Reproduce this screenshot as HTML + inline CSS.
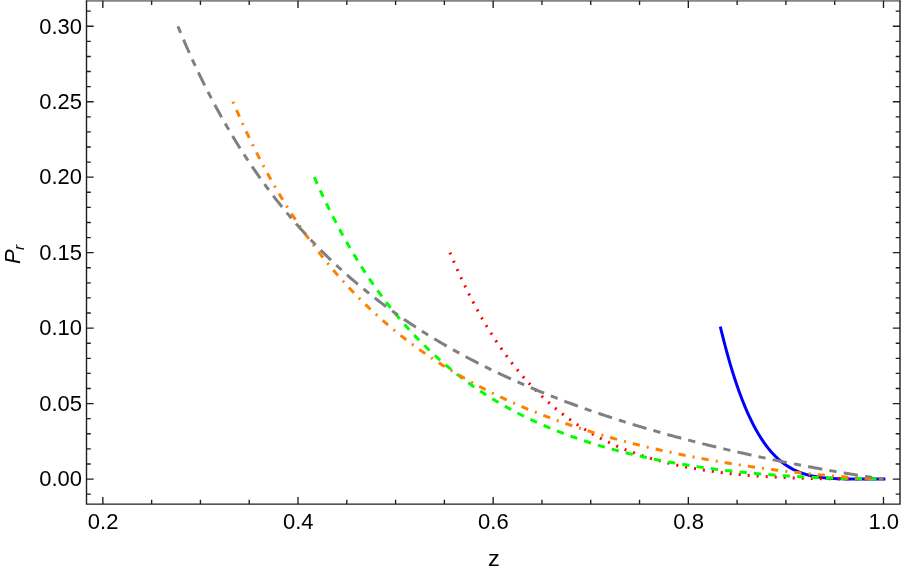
<!DOCTYPE html>
<html><head><meta charset="utf-8"><title>plot</title>
<style>
html,body{margin:0;padding:0;background:#fff;}
body{width:903px;height:573px;position:relative;overflow:hidden;font-family:"Liberation Sans",sans-serif;color:#000;}
#lab{position:absolute;left:0;top:0;width:903px;height:573px;will-change:transform;}
.yl{position:absolute;left:0;width:82.1px;transform:scaleY(1.035);height:30px;line-height:30px;text-align:right;font-size:22px;}
.xl{position:absolute;top:507.3px;transform:scaleY(1.025);width:80px;height:30px;line-height:30px;text-align:center;font-size:22px;}
#zl{position:absolute;left:453.6px;top:543.6px;transform:scaleX(1.07);width:80px;height:30px;line-height:30px;text-align:center;font-size:22px;}
#pl{position:absolute;left:-27.3px;top:239px;width:80px;height:30px;line-height:30px;text-align:center;font-size:22px;font-style:italic;transform:rotate(-90deg);transform-origin:center center;white-space:nowrap;}
#pl span{font-size:15.5px;position:relative;top:3.6px;left:-0.7px;}
</style></head><body>
<svg width="903" height="573" viewBox="0 0 903 573" style="position:absolute;left:0;top:0">
<path d="M720.31,326.56 L720.69,328.12 L720.75,328.40 L720.85,328.81 L720.97,329.29 L721.10,329.82 L721.24,330.39 L721.38,331.00 L721.54,331.63 L721.70,332.29 L721.86,332.97 L722.04,333.67 L722.22,334.39 L722.40,335.13 L722.59,335.88 L722.78,336.65 L722.97,337.43 L723.17,338.22 L723.38,339.03 L723.59,339.85 L723.80,340.67 L724.01,341.51 L724.23,342.35 L724.45,343.21 L724.67,344.07 L724.90,344.93 L725.13,345.81 L725.36,346.69 L725.60,347.58 L725.84,348.47 L726.08,349.36 L726.32,350.27 L726.56,351.17 L726.81,352.08 L727.06,352.99 L727.31,353.91 L727.57,354.83 L727.83,355.75 L728.08,356.68 L728.34,357.61 L728.61,358.54 L728.87,359.47 L729.14,360.40 L729.41,361.33 L729.68,362.27 L729.95,363.21 L730.23,364.14 L730.50,365.08 L730.78,366.02 L731.06,366.96 L731.34,367.90 L731.63,368.83 L731.91,369.77 L732.20,370.71 L732.49,371.64 L732.78,372.58 L733.07,373.51 L733.36,374.45 L733.66,375.38 L733.96,376.31 L734.25,377.24 L734.55,378.17 L734.86,379.09 L735.16,380.02 L735.46,380.94 L735.77,381.86 L736.08,382.78 L736.38,383.69 L736.69,384.61 L737.00,385.52 L737.32,386.43 L737.63,387.33 L737.95,388.23 L738.26,389.13 L738.58,390.03 L738.90,390.92 L739.22,391.81 L739.54,392.70 L739.87,393.58 L740.19,394.46 L740.52,395.34 L740.84,396.21 L741.17,397.08 L741.50,397.95 L741.83,398.81 L742.16,399.67 L742.50,400.52 L742.83,401.38 L743.17,402.22 L743.50,403.06 L743.84,403.90 L744.18,404.74 L744.52,405.57 L744.86,406.39 L745.20,407.21 L745.54,408.03 L745.89,408.84 L746.23,409.65 L746.58,410.45 L746.93,411.25 L747.28,412.04 L747.63,412.83 L747.98,413.62 L748.33,414.40 L748.68,415.17 L749.04,415.94 L749.39,416.71 L749.75,417.47 L750.10,418.22 L750.46,418.97 L750.82,419.72 L751.18,420.46 L751.54,421.19 L751.90,421.92 L752.27,422.65 L752.63,423.37 L752.99,424.09 L753.36,424.80 L753.73,425.50 L754.09,426.20 L754.46,426.89 L754.83,427.58 L755.20,428.27 L755.57,428.95 L755.95,429.62 L756.32,430.29 L756.69,430.95 L757.07,431.61 L757.44,432.26 L757.82,432.91 L758.20,433.55 L758.58,434.18 L758.96,434.81 L759.34,435.44 L759.72,436.06 L760.10,436.67 L760.48,437.28 L760.87,437.89 L761.25,438.49 L761.64,439.08 L762.02,439.67 L762.41,440.25 L762.80,440.83 L763.19,441.40 L763.57,441.96 L763.97,442.52 L764.36,443.08 L764.75,443.63 L765.14,444.18 L765.53,444.71 L765.93,445.25 L766.32,445.78 L766.72,446.30 L767.12,446.82 L767.51,447.33 L767.91,447.84 L768.31,448.34 L768.71,448.84 L769.11,449.33 L769.51,449.82 L769.92,450.30 L770.32,450.78 L770.72,451.25 L771.13,451.71 L771.53,452.17 L771.94,452.63 L772.34,453.08 L772.75,453.52 L773.16,453.96 L773.57,454.40 L773.98,454.83 L774.39,455.25 L774.80,455.67 L775.21,456.09 L775.62,456.50 L776.04,456.90 L776.45,457.30 L776.86,457.70 L777.28,458.09 L777.70,458.48 L778.11,458.86 L778.53,459.23 L778.95,459.60 L779.37,459.97 L779.79,460.33 L780.21,460.69 L780.63,461.04 L781.05,461.39 L781.47,461.73 L781.89,462.07 L782.32,462.40 L782.74,462.73 L783.17,463.05 L783.59,463.37 L784.02,463.69 L784.45,464.00 L784.87,464.31 L785.30,464.61 L785.73,464.91 L786.16,465.20 L786.59,465.49 L787.02,465.77 L787.45,466.05 L787.88,466.33 L788.32,466.60 L788.75,466.87 L789.18,467.13 L789.62,467.39 L790.05,467.65 L790.49,467.90 L790.93,468.15 L791.36,468.39 L791.80,468.63 L792.24,468.87 L792.68,469.10 L793.12,469.33 L793.56,469.56 L794.00,469.78 L794.44,469.99 L794.88,470.21 L795.33,470.42 L795.77,470.62 L796.21,470.83 L796.66,471.03 L797.10,471.22 L797.55,471.41 L798.00,471.60 L798.44,471.79 L798.89,471.97 L799.34,472.15 L799.79,472.32 L800.24,472.50 L800.69,472.66 L801.14,472.83 L801.59,472.99 L802.04,473.15 L802.49,473.31 L802.95,473.46 L803.40,473.61 L803.85,473.76 L804.31,473.90 L804.76,474.04 L805.22,474.18 L805.67,474.32 L806.13,474.45 L806.59,474.58 L807.05,474.71 L807.51,474.83 L807.96,474.95 L808.42,475.07 L808.88,475.19 L809.35,475.30 L809.81,475.42 L810.27,475.53 L810.73,475.63 L811.19,475.74 L811.66,475.84 L812.12,475.94 L812.59,476.03 L813.05,476.13 L813.52,476.22 L813.98,476.31 L814.45,476.40 L814.92,476.49 L815.38,476.57 L815.85,476.65 L816.32,476.73 L816.79,476.81 L817.26,476.89 L817.73,476.96 L818.20,477.03 L818.67,477.10 L819.15,477.17 L819.62,477.24 L820.09,477.30 L820.57,477.36 L821.04,477.43 L821.51,477.49 L821.99,477.54 L822.47,477.60 L822.94,477.65 L823.42,477.71 L823.90,477.76 L824.37,477.81 L824.85,477.86 L825.33,477.90 L825.81,477.95 L826.29,477.99 L826.77,478.04 L827.25,478.08 L827.73,478.12 L828.21,478.16 L828.70,478.19 L829.18,478.23 L829.66,478.27 L830.15,478.30 L830.63,478.33 L831.11,478.36 L831.60,478.40 L832.09,478.43 L832.57,478.45 L833.06,478.48 L833.55,478.51 L834.03,478.53 L834.52,478.56 L835.01,478.58 L835.50,478.60 L835.99,478.63 L836.48,478.65 L836.97,478.67 L837.46,478.69 L837.95,478.71 L838.44,478.72 L838.94,478.74 L839.43,478.76 L839.92,478.77 L840.42,478.79 L840.91,478.80 L841.41,478.82 L841.90,478.83 L842.40,478.84 L842.89,478.86 L843.39,478.87 L843.89,478.88 L844.38,478.89 L844.88,478.90 L845.38,478.91 L845.88,478.92 L846.38,478.93 L846.88,478.93 L847.38,478.94 L847.88,478.95 L848.38,478.96 L848.88,478.96 L849.39,478.97 L849.89,478.97 L850.39,478.98 L850.90,478.98 L851.40,478.99 L851.90,478.99 L852.41,479.00 L852.91,479.00 L853.42,479.01 L853.93,479.01 L854.43,479.01 L854.94,479.02 L855.45,479.02 L855.96,479.02 L856.46,479.02 L856.97,479.03 L857.48,479.03 L857.99,479.03 L858.50,479.03 L859.01,479.03 L859.52,479.04 L860.04,479.04 L860.55,479.04 L861.06,479.04 L861.57,479.04 L862.09,479.04 L862.60,479.04 L863.11,479.04 L863.63,479.04 L864.14,479.05 L864.66,479.05 L865.17,479.05 L865.69,479.05 L866.21,479.05 L866.72,479.05 L867.24,479.05 L867.76,479.05 L868.28,479.05 L868.80,479.05 L869.32,479.05 L869.84,479.05 L870.36,479.05 L870.88,479.05 L871.40,479.05 L871.92,479.05 L872.44,479.05 L872.96,479.05 L873.48,479.05 L874.01,479.05 L874.53,479.05 L875.05,479.05 L875.58,479.05 L876.10,479.05 L876.63,479.05 L877.15,479.05 L877.68,479.05 L878.21,479.05 L878.73,479.05 L879.26,479.05 L879.79,479.05 L880.31,479.05 L880.84,479.05 L881.37,479.05 L881.90,479.05 L882.43,479.05 L882.96,479.05 L883.49,479.05 L885.39,479.05" fill="none" stroke="#0000ff" stroke-width="3.0" stroke-linejoin="round"/>
<path d="M449.94,252.66 L450.12,253.09 L450.39,253.71 L450.69,254.44 L451.03,255.25 L451.40,256.12 L451.79,257.04 L452.20,258.00 L452.63,259.00 L453.08,260.03 L453.54,261.10 L454.01,262.19 L454.50,263.30 L455.00,264.44 L455.51,265.60 L456.03,266.78 L456.57,267.97 L457.11,269.18 L457.66,270.41 L458.22,271.65 L458.80,272.90 L459.38,274.17 L459.96,275.44 L460.56,276.73 L461.16,278.02 L461.78,279.32 L462.39,280.63 L463.02,281.95 L463.65,283.27 L464.29,284.60 L464.94,285.93 L465.59,287.27 L466.25,288.62 L466.92,289.96 L467.59,291.31 L468.27,292.67 L468.95,294.02 L469.64,295.38 L470.34,296.74 L471.04,298.10 L471.74,299.46 L472.45,300.82 L473.17,302.18 L473.89,303.54 L474.62,304.90 L475.35,306.26 L476.09,307.62 L476.83,308.98 L477.57,310.34 L478.32,311.69 L479.08,313.05 L479.84,314.40 L480.60,315.75 L481.37,317.09 L482.14,318.44 L482.92,319.78 L483.70,321.11 L484.49,322.45 L485.28,323.78 L486.07,325.11 L486.87,326.43 L487.67,327.75 L488.48,329.06 L489.29,330.38 L490.10,331.68 L490.92,332.98 L491.74,334.28 L492.57,335.57 L493.40,336.86 L494.23,338.15 L495.07,339.42 L495.91,340.70 L496.75,341.96 L497.60,343.23 L498.45,344.48 L499.30,345.73 L500.16,346.98 L501.02,348.22 L501.88,349.45 L502.75,350.68 L503.62,351.90 L504.49,353.12 L505.37,354.33 L506.25,355.53 L507.13,356.73 L508.02,357.92 L508.91,359.10 L509.80,360.28 L510.70,361.45 L511.60,362.62 L512.50,363.77 L513.41,364.93 L514.31,366.07 L515.23,367.21 L516.14,368.34 L517.06,369.47 L517.98,370.58 L518.90,371.70 L519.82,372.80 L520.75,373.90 L521.68,374.99 L522.62,376.07 L523.55,377.15 L524.49,378.22 L525.44,379.28 L526.38,380.34 L527.33,381.39 L528.28,382.43 L529.23,383.47 L530.19,384.50 L531.15,385.52 L532.11,386.53 L533.07,387.54 L534.04,388.54 L535.01,389.53 L535.98,390.52 L536.95,391.49 L537.93,392.47 L538.91,393.43 L539.89,394.39 L540.87,395.34 L541.86,396.28 L542.85,397.22 L543.84,398.15 L544.83,399.07 L545.83,399.99 L546.83,400.89 L547.83,401.80 L548.83,402.69 L549.84,403.58 L550.84,404.46 L551.85,405.33 L552.87,406.20 L553.88,407.06 L554.90,407.91 L555.92,408.75 L556.94,409.59 L557.96,410.42 L558.99,411.25 L560.02,412.07 L561.05,412.88 L562.08,413.68 L563.12,414.48 L564.15,415.27 L565.19,416.06 L566.23,416.83 L567.28,417.61 L568.32,418.37 L569.37,419.13 L570.42,419.88 L571.47,420.62 L572.53,421.36 L573.58,422.09 L574.64,422.82 L575.70,423.54 L576.77,424.25 L577.83,424.95 L578.90,425.65 L579.97,426.34 L581.04,427.03 L582.11,427.71 L583.19,428.38 L584.26,429.05 L585.34,429.71 L586.42,430.37 L587.50,431.02 L588.59,431.66 L589.68,432.30 L590.77,432.93 L591.86,433.55 L592.95,434.17 L594.04,434.78 L595.14,435.39 L596.24,435.99 L597.34,436.58 L598.44,437.17 L599.54,437.76 L600.65,438.33 L601.76,438.90 L602.87,439.47 L603.98,440.03 L605.09,440.58 L606.21,441.13 L607.33,441.68 L608.44,442.21 L609.57,442.74 L610.69,443.27 L611.81,443.79 L612.94,444.31 L614.07,444.82 L615.20,445.32 L616.33,445.82 L617.46,446.32 L618.60,446.80 L619.73,447.29 L620.87,447.77 L622.01,448.24 L623.15,448.71 L624.30,449.17 L625.44,449.63 L626.59,450.08 L627.74,450.53 L628.89,450.97 L630.04,451.41 L631.20,451.84 L632.35,452.27 L633.51,452.69 L634.67,453.11 L635.83,453.53 L636.99,453.93 L638.16,454.34 L639.32,454.74 L640.49,455.13 L641.66,455.52 L642.83,455.91 L644.00,456.29 L645.18,456.67 L646.35,457.04 L647.53,457.41 L648.71,457.77 L649.89,458.13 L651.07,458.48 L652.26,458.83 L653.44,459.18 L654.63,459.52 L655.82,459.86 L657.01,460.19 L658.20,460.52 L659.40,460.85 L660.59,461.17 L661.79,461.48 L662.99,461.80 L664.19,462.11 L665.39,462.41 L666.59,462.71 L667.79,463.01 L669.00,463.30 L670.21,463.59 L671.42,463.88 L672.63,464.16 L673.84,464.44 L675.05,464.71 L676.27,464.98 L677.48,465.25 L678.70,465.51 L679.92,465.77 L681.14,466.03 L682.36,466.28 L683.59,466.53 L684.81,466.78 L686.04,467.02 L687.27,467.26 L688.50,467.50 L689.73,467.73 L690.96,467.96 L692.20,468.18 L693.43,468.41 L694.67,468.63 L695.91,468.84 L697.15,469.05 L698.39,469.26 L699.63,469.47 L700.88,469.67 L702.12,469.87 L703.37,470.07 L704.62,470.27 L705.87,470.46 L707.12,470.65 L708.37,470.83 L709.63,471.02 L710.88,471.20 L712.14,471.37 L713.40,471.55 L714.66,471.72 L715.92,471.89 L717.18,472.05 L718.45,472.22 L719.71,472.38 L720.98,472.54 L722.25,472.69 L723.52,472.84 L724.79,472.99 L726.06,473.14 L727.33,473.29 L728.61,473.43 L729.89,473.57 L731.16,473.71 L732.44,473.84 L733.72,473.98 L735.00,474.11 L736.29,474.24 L737.57,474.36 L738.86,474.49 L740.14,474.61 L741.43,474.73 L742.72,474.84 L744.01,474.96 L745.30,475.07 L746.60,475.18 L747.89,475.29 L749.19,475.40 L750.49,475.50 L751.79,475.60 L753.09,475.70 L754.39,475.80 L755.69,475.90 L756.99,475.99 L758.30,476.08 L759.60,476.17 L760.91,476.26 L762.22,476.35 L763.53,476.43 L764.84,476.52 L766.16,476.60 L767.47,476.68 L768.78,476.76 L770.10,476.83 L771.42,476.91 L772.74,476.98 L774.06,477.05 L775.38,477.12 L776.70,477.19 L778.03,477.25 L779.35,477.32 L780.68,477.38 L782.01,477.44 L783.33,477.50 L784.66,477.56 L786.00,477.62 L787.33,477.67 L788.66,477.73 L790.00,477.78 L791.33,477.83 L792.67,477.88 L794.01,477.93 L795.35,477.97 L796.69,478.02 L798.03,478.06 L799.38,478.11 L800.72,478.15 L802.07,478.19 L803.41,478.23 L804.76,478.27 L806.11,478.30 L807.46,478.34 L808.81,478.38 L810.16,478.41 L811.52,478.44 L812.87,478.47 L814.23,478.50 L815.59,478.53 L816.95,478.56 L818.31,478.59 L819.67,478.61 L821.03,478.64 L822.39,478.66 L823.76,478.69 L825.12,478.71 L826.49,478.73 L827.86,478.75 L829.23,478.77 L830.60,478.79 L831.97,478.81 L833.34,478.82 L834.71,478.84 L836.09,478.86 L837.47,478.87 L838.84,478.89 L840.22,478.90 L841.60,478.91 L842.98,478.92 L844.36,478.94 L845.74,478.95 L847.13,478.96 L848.51,478.96 L849.90,478.97 L851.29,478.98 L852.67,478.99 L854.06,479.00 L855.45,479.00 L856.85,479.01 L858.24,479.01 L859.63,479.02 L861.03,479.02 L862.42,479.03 L863.82,479.03 L865.22,479.03 L866.62,479.04 L868.02,479.04 L869.42,479.04 L870.82,479.04 L872.22,479.05 L873.63,479.05 L875.03,479.05 L876.44,479.05 L877.85,479.05 L879.26,479.05 L880.67,479.05 L882.08,479.05 L883.49,479.05" fill="none" stroke="#ff0000" stroke-width="3.0" stroke-linejoin="round" stroke-dasharray="2.0 7.022" stroke-dashoffset="0.1"/>
<path d="M314.30,177.19 L314.54,177.73 L314.89,178.52 L315.29,179.43 L315.74,180.45 L316.22,181.53 L316.73,182.68 L317.27,183.89 L317.84,185.14 L318.42,186.43 L319.03,187.76 L319.65,189.12 L320.29,190.52 L320.94,191.94 L321.62,193.39 L322.30,194.86 L323.00,196.35 L323.71,197.86 L324.44,199.39 L325.18,200.94 L325.93,202.50 L326.69,204.08 L327.46,205.66 L328.24,207.26 L329.04,208.87 L329.84,210.49 L330.65,212.12 L331.47,213.76 L332.31,215.41 L333.15,217.06 L333.99,218.71 L334.85,220.38 L335.72,222.04 L336.59,223.71 L337.47,225.39 L338.36,227.07 L339.26,228.75 L340.17,230.43 L341.08,232.11 L342.00,233.80 L342.92,235.48 L343.86,237.17 L344.80,238.85 L345.75,240.54 L346.70,242.22 L347.66,243.91 L348.63,245.59 L349.60,247.27 L350.58,248.95 L351.56,250.62 L352.56,252.29 L353.55,253.96 L354.56,255.63 L355.57,257.29 L356.58,258.95 L357.60,260.61 L358.63,262.26 L359.66,263.91 L360.70,265.55 L361.74,267.19 L362.79,268.82 L363.84,270.45 L364.90,272.08 L365.96,273.70 L367.03,275.31 L368.10,276.92 L369.18,278.52 L370.27,280.11 L371.35,281.70 L372.45,283.29 L373.54,284.86 L374.65,286.43 L375.75,288.00 L376.87,289.56 L377.98,291.11 L379.10,292.65 L380.23,294.19 L381.36,295.72 L382.49,297.25 L383.63,298.76 L384.78,300.27 L385.92,301.78 L387.07,303.27 L388.23,304.76 L389.39,306.24 L390.55,307.71 L391.72,309.18 L392.89,310.64 L394.07,312.09 L395.25,313.53 L396.44,314.96 L397.62,316.39 L398.82,317.81 L400.01,319.22 L401.21,320.63 L402.42,322.02 L403.62,323.41 L404.83,324.79 L406.05,326.17 L407.27,327.53 L408.49,328.89 L409.72,330.24 L410.95,331.58 L412.18,332.91 L413.42,334.24 L414.66,335.55 L415.90,336.86 L417.15,338.16 L418.40,339.46 L419.66,340.74 L420.92,342.02 L422.18,343.29 L423.44,344.55 L424.71,345.80 L425.98,347.05 L427.26,348.28 L428.54,349.51 L429.82,350.73 L431.10,351.95 L432.39,353.15 L433.68,354.35 L434.98,355.54 L436.28,356.72 L437.58,357.89 L438.88,359.06 L440.19,360.21 L441.50,361.36 L442.81,362.51 L444.13,363.64 L445.45,364.77 L446.77,365.89 L448.10,367.00 L449.43,368.10 L450.76,369.19 L452.10,370.28 L453.44,371.36 L454.78,372.43 L456.12,373.50 L457.47,374.56 L458.82,375.60 L460.17,376.65 L461.53,377.68 L462.89,378.71 L464.25,379.73 L465.61,380.74 L466.98,381.74 L468.35,382.74 L469.72,383.73 L471.10,384.71 L472.48,385.69 L473.86,386.66 L475.24,387.62 L476.63,388.57 L478.02,389.52 L479.41,390.45 L480.81,391.39 L482.20,392.31 L483.61,393.23 L485.01,394.14 L486.41,395.04 L487.82,395.94 L489.23,396.83 L490.65,397.71 L492.06,398.59 L493.48,399.46 L494.90,400.32 L496.33,401.18 L497.76,402.03 L499.19,402.87 L500.62,403.71 L502.05,404.54 L503.49,405.36 L504.93,406.17 L506.37,406.98 L507.81,407.79 L509.26,408.58 L510.71,409.37 L512.16,410.16 L513.62,410.94 L515.07,411.71 L516.53,412.47 L518.00,413.23 L519.46,413.98 L520.93,414.73 L522.40,415.47 L523.87,416.20 L525.34,416.93 L526.82,417.65 L528.30,418.37 L529.78,419.08 L531.26,419.78 L532.74,420.48 L534.23,421.17 L535.72,421.86 L537.22,422.54 L538.71,423.22 L540.21,423.88 L541.71,424.55 L543.21,425.21 L544.71,425.86 L546.22,426.50 L547.73,427.15 L549.24,427.78 L550.75,428.41 L552.27,429.03 L553.78,429.65 L555.30,430.27 L556.83,430.88 L558.35,431.48 L559.88,432.08 L561.41,432.67 L562.94,433.26 L564.47,433.84 L566.00,434.41 L567.54,434.99 L569.08,435.55 L570.62,436.11 L572.17,436.67 L573.71,437.22 L575.26,437.77 L576.81,438.31 L578.36,438.85 L579.92,439.38 L581.47,439.91 L583.03,440.43 L584.59,440.94 L586.16,441.46 L587.72,441.96 L589.29,442.47 L590.86,442.97 L592.43,443.46 L594.00,443.95 L595.57,444.43 L597.15,444.91 L598.73,445.39 L600.31,445.86 L601.90,446.32 L603.48,446.79 L605.07,447.24 L606.66,447.70 L608.25,448.15 L609.84,448.59 L611.44,449.03 L613.03,449.47 L614.63,449.90 L616.23,450.33 L617.84,450.75 L619.44,451.17 L621.05,451.58 L622.66,451.99 L624.27,452.40 L625.88,452.80 L627.50,453.20 L629.11,453.60 L630.73,453.99 L632.35,454.37 L633.97,454.76 L635.60,455.14 L637.22,455.51 L638.85,455.88 L640.48,456.25 L642.11,456.61 L643.75,456.97 L645.38,457.33 L647.02,457.68 L648.66,458.03 L650.30,458.37 L651.94,458.72 L653.59,459.05 L655.24,459.39 L656.88,459.72 L658.53,460.05 L660.19,460.37 L661.84,460.69 L663.50,461.00 L665.15,461.32 L666.81,461.63 L668.48,461.93 L670.14,462.24 L671.80,462.54 L673.47,462.83 L675.14,463.12 L676.81,463.41 L678.48,463.70 L680.15,463.98 L681.83,464.26 L683.51,464.54 L685.19,464.81 L686.87,465.08 L688.55,465.35 L690.23,465.61 L691.92,465.87 L693.61,466.13 L695.30,466.38 L696.99,466.63 L698.68,466.88 L700.38,467.13 L702.07,467.37 L703.77,467.61 L705.47,467.85 L707.17,468.08 L708.88,468.31 L710.58,468.54 L712.29,468.76 L714.00,468.98 L715.71,469.20 L717.42,469.42 L719.13,469.63 L720.85,469.84 L722.56,470.05 L724.28,470.25 L726.00,470.46 L727.72,470.66 L729.45,470.85 L731.17,471.05 L732.90,471.24 L734.63,471.43 L736.36,471.61 L738.09,471.80 L739.82,471.98 L741.56,472.16 L743.29,472.33 L745.03,472.50 L746.77,472.68 L748.51,472.84 L750.26,473.01 L752.00,473.17 L753.75,473.33 L755.49,473.49 L757.24,473.65 L758.99,473.80 L760.75,473.95 L762.50,474.10 L764.26,474.24 L766.01,474.39 L767.77,474.53 L769.53,474.67 L771.30,474.80 L773.06,474.94 L774.82,475.07 L776.59,475.20 L778.36,475.33 L780.13,475.45 L781.90,475.57 L783.67,475.69 L785.45,475.81 L787.22,475.93 L789.00,476.04 L790.78,476.15 L792.56,476.26 L794.34,476.37 L796.13,476.47 L797.91,476.58 L799.70,476.68 L801.49,476.77 L803.28,476.87 L805.07,476.96 L806.86,477.06 L808.66,477.15 L810.45,477.23 L812.25,477.32 L814.05,477.40 L815.85,477.48 L817.65,477.56 L819.46,477.64 L821.26,477.72 L823.07,477.79 L824.87,477.86 L826.68,477.93 L828.49,478.00 L830.31,478.06 L832.12,478.12 L833.94,478.18 L835.75,478.24 L837.57,478.30 L839.39,478.36 L841.21,478.41 L843.03,478.46 L844.86,478.51 L846.68,478.55 L848.51,478.60 L850.34,478.64 L852.17,478.68 L854.00,478.72 L855.83,478.76 L857.66,478.79 L859.50,478.83 L861.34,478.86 L863.18,478.88 L865.02,478.91 L866.86,478.94 L868.70,478.96 L870.54,478.98 L872.39,478.99 L874.24,479.01 L876.08,479.02 L877.93,479.03 L879.78,479.04 L881.64,479.05 L883.49,479.05" fill="none" stroke="#00ff00" stroke-width="3.0" stroke-linejoin="round" stroke-dasharray="7.222 7.222"/>
<path d="M232.95,101.73 L233.22,102.36 L233.62,103.29 L234.08,104.38 L234.59,105.57 L235.14,106.85 L235.73,108.21 L236.35,109.63 L236.99,111.10 L237.66,112.63 L238.35,114.19 L239.06,115.80 L239.79,117.44 L240.54,119.12 L241.31,120.82 L242.09,122.55 L242.89,124.30 L243.71,126.08 L244.54,127.87 L245.38,129.69 L246.24,131.52 L247.11,133.37 L247.99,135.23 L248.88,137.10 L249.79,138.99 L250.71,140.89 L251.64,142.80 L252.58,144.71 L253.53,146.64 L254.49,148.57 L255.46,150.50 L256.44,152.45 L257.43,154.39 L258.42,156.34 L259.43,158.30 L260.45,160.26 L261.48,162.22 L262.51,164.18 L263.55,166.14 L264.60,168.10 L265.66,170.07 L266.73,172.03 L267.80,173.99 L268.89,175.95 L269.98,177.91 L271.07,179.87 L272.18,181.83 L273.29,183.78 L274.41,185.73 L275.54,187.68 L276.67,189.62 L277.81,191.56 L278.96,193.50 L280.11,195.43 L281.27,197.35 L282.44,199.28 L283.61,201.19 L284.79,203.10 L285.98,205.01 L287.17,206.91 L288.36,208.81 L289.57,210.69 L290.78,212.58 L291.99,214.45 L293.21,216.32 L294.44,218.19 L295.67,220.04 L296.91,221.89 L298.16,223.73 L299.40,225.57 L300.66,227.40 L301.92,229.22 L303.18,231.03 L304.46,232.83 L305.73,234.63 L307.01,236.42 L308.30,238.20 L309.59,239.98 L310.89,241.74 L312.19,243.50 L313.49,245.25 L314.81,246.99 L316.12,248.73 L317.44,250.45 L318.77,252.17 L320.10,253.88 L321.43,255.58 L322.77,257.27 L324.12,258.95 L325.47,260.63 L326.82,262.29 L328.18,263.95 L329.54,265.60 L330.91,267.24 L332.28,268.87 L333.66,270.49 L335.04,272.10 L336.42,273.71 L337.81,275.31 L339.20,276.89 L340.60,278.47 L342.00,280.04 L343.41,281.60 L344.82,283.16 L346.23,284.70 L347.65,286.24 L349.07,287.76 L350.50,289.28 L351.93,290.79 L353.36,292.29 L354.80,293.78 L356.24,295.26 L357.69,296.74 L359.14,298.20 L360.59,299.66 L362.05,301.11 L363.51,302.55 L364.98,303.98 L366.44,305.40 L367.92,306.81 L369.39,308.22 L370.87,309.62 L372.36,311.00 L373.84,312.38 L375.33,313.76 L376.83,315.12 L378.33,316.47 L379.83,317.82 L381.33,319.16 L382.84,320.49 L384.36,321.81 L385.87,323.12 L387.39,324.43 L388.91,325.72 L390.44,327.01 L391.97,328.29 L393.50,329.56 L395.04,330.83 L396.58,332.08 L398.12,333.33 L399.67,334.57 L401.22,335.80 L402.77,337.03 L404.33,338.24 L405.89,339.45 L407.45,340.65 L409.01,341.85 L410.58,343.03 L412.16,344.21 L413.73,345.38 L415.31,346.54 L416.89,347.70 L418.48,348.84 L420.07,349.98 L421.66,351.12 L423.25,352.24 L424.85,353.36 L426.45,354.47 L428.05,355.57 L429.66,356.67 L431.27,357.75 L432.88,358.84 L434.50,359.91 L436.12,360.98 L437.74,362.04 L439.37,363.09 L440.99,364.13 L442.62,365.17 L444.26,366.21 L445.89,367.23 L447.53,368.25 L449.18,369.26 L450.82,370.26 L452.47,371.26 L454.12,372.25 L455.77,373.24 L457.43,374.21 L459.09,375.18 L460.75,376.15 L462.42,377.11 L464.09,378.06 L465.76,379.00 L467.43,379.94 L469.11,380.87 L470.78,381.80 L472.47,382.72 L474.15,383.63 L475.84,384.54 L477.53,385.44 L479.22,386.34 L480.92,387.22 L482.61,388.11 L484.31,388.98 L486.02,389.85 L487.72,390.72 L489.43,391.58 L491.14,392.43 L492.86,393.28 L494.57,394.12 L496.29,394.95 L498.01,395.78 L499.74,396.60 L501.46,397.42 L503.19,398.23 L504.93,399.04 L506.66,399.84 L508.40,400.64 L510.14,401.43 L511.88,402.21 L513.62,402.99 L515.37,403.76 L517.12,404.53 L518.87,405.29 L520.63,406.05 L522.38,406.80 L524.14,407.55 L525.90,408.29 L527.67,409.03 L529.44,409.76 L531.21,410.49 L532.98,411.21 L534.75,411.92 L536.53,412.63 L538.31,413.34 L540.09,414.04 L541.87,414.74 L543.66,415.43 L545.45,416.11 L547.24,416.79 L549.03,417.47 L550.83,418.14 L552.62,418.81 L554.42,419.47 L556.23,420.13 L558.03,420.78 L559.84,421.43 L561.65,422.07 L563.46,422.71 L565.27,423.35 L567.09,423.98 L568.91,424.60 L570.73,425.22 L572.55,425.84 L574.38,426.45 L576.21,427.06 L578.04,427.66 L579.87,428.26 L581.70,428.85 L583.54,429.44 L585.38,430.03 L587.22,430.61 L589.06,431.19 L590.91,431.76 L592.75,432.33 L594.60,432.89 L596.46,433.45 L598.31,434.01 L600.17,434.56 L602.03,435.11 L603.89,435.65 L605.75,436.19 L607.61,436.73 L609.48,437.26 L611.35,437.79 L613.22,438.31 L615.10,438.83 L616.97,439.35 L618.85,439.86 L620.73,440.37 L622.61,440.87 L624.50,441.38 L626.38,441.87 L628.27,442.37 L630.16,442.86 L632.05,443.34 L633.95,443.83 L635.85,444.30 L637.74,444.78 L639.64,445.25 L641.55,445.72 L643.45,446.18 L645.36,446.64 L647.27,447.10 L649.18,447.55 L651.09,448.00 L653.01,448.45 L654.92,448.89 L656.84,449.33 L658.76,449.77 L660.69,450.20 L662.61,450.63 L664.54,451.06 L666.47,451.48 L668.40,451.90 L670.33,452.32 L672.27,452.73 L674.20,453.14 L676.14,453.54 L678.08,453.95 L680.03,454.35 L681.97,454.74 L683.92,455.14 L685.87,455.53 L687.82,455.91 L689.77,456.30 L691.72,456.68 L693.68,457.05 L695.64,457.43 L697.60,457.80 L699.56,458.17 L701.53,458.53 L703.49,458.89 L705.46,459.25 L707.43,459.61 L709.40,459.96 L711.37,460.31 L713.35,460.65 L715.33,461.00 L717.31,461.34 L719.29,461.68 L721.27,462.01 L723.25,462.34 L725.24,462.67 L727.23,463.00 L729.22,463.32 L731.21,463.64 L733.21,463.96 L735.20,464.27 L737.20,464.58 L739.20,464.89 L741.20,465.19 L743.20,465.50 L745.21,465.80 L747.22,466.09 L749.22,466.39 L751.23,466.68 L753.25,466.97 L755.26,467.25 L757.28,467.53 L759.29,467.81 L761.31,468.09 L763.33,468.37 L765.36,468.64 L767.38,468.91 L769.41,469.17 L771.44,469.43 L773.47,469.69 L775.50,469.95 L777.53,470.21 L779.57,470.46 L781.60,470.71 L783.64,470.95 L785.68,471.20 L787.72,471.44 L789.77,471.68 L791.81,471.91 L793.86,472.14 L795.91,472.37 L797.96,472.60 L800.01,472.82 L802.07,473.04 L804.12,473.26 L806.18,473.48 L808.24,473.69 L810.30,473.90 L812.37,474.11 L814.43,474.31 L816.50,474.51 L818.56,474.71 L820.63,474.91 L822.70,475.10 L824.78,475.29 L826.85,475.47 L828.93,475.66 L831.01,475.84 L833.09,476.01 L835.17,476.19 L837.25,476.36 L839.34,476.53 L841.42,476.69 L843.51,476.85 L845.60,477.01 L847.69,477.16 L849.78,477.31 L851.88,477.46 L853.97,477.60 L856.07,477.74 L858.17,477.87 L860.27,478.00 L862.37,478.13 L864.48,478.25 L866.58,478.37 L868.69,478.48 L870.80,478.59 L872.91,478.69 L875.02,478.78 L877.14,478.87 L879.25,478.94 L881.37,479.01 L883.49,479.05" fill="none" stroke="#ff8000" stroke-width="3.0" stroke-linejoin="round" stroke-dasharray="2.0 7.122000000000001 7.222 7.122000000000001" stroke-dashoffset="0.1"/>
<path d="M177.90,26.26 L178.19,26.97 L178.62,28.01 L179.12,29.22 L179.68,30.55 L180.28,31.99 L180.91,33.50 L181.58,35.08 L182.28,36.73 L183.00,38.43 L183.75,40.17 L184.52,41.96 L185.32,43.79 L186.13,45.66 L186.96,47.55 L187.81,49.48 L188.68,51.43 L189.56,53.40 L190.46,55.40 L191.38,57.42 L192.31,59.45 L193.25,61.51 L194.21,63.57 L195.18,65.66 L196.16,67.75 L197.16,69.86 L198.16,71.97 L199.18,74.10 L200.21,76.23 L201.26,78.37 L202.31,80.52 L203.37,82.67 L204.44,84.82 L205.53,86.99 L206.62,89.15 L207.72,91.32 L208.84,93.48 L209.96,95.65 L211.09,97.83 L212.23,100.00 L213.38,102.17 L214.54,104.34 L215.70,106.51 L216.88,108.67 L218.06,110.84 L219.25,113.00 L220.45,115.16 L221.65,117.32 L222.87,119.47 L224.09,121.62 L225.32,123.77 L226.55,125.91 L227.80,128.05 L229.05,130.18 L230.31,132.30 L231.57,134.42 L232.84,136.54 L234.12,138.65 L235.41,140.75 L236.70,142.85 L238.00,144.94 L239.31,147.02 L240.62,149.10 L241.94,151.17 L243.26,153.23 L244.59,155.29 L245.93,157.34 L247.27,159.38 L248.62,161.41 L249.98,163.44 L251.34,165.45 L252.70,167.46 L254.08,169.46 L255.45,171.46 L256.84,173.44 L258.23,175.42 L259.62,177.39 L261.02,179.35 L262.43,181.30 L263.84,183.24 L265.26,185.17 L266.68,187.10 L268.11,189.02 L269.54,190.92 L270.98,192.82 L272.42,194.71 L273.87,196.59 L275.32,198.47 L276.78,200.33 L278.24,202.18 L279.71,204.03 L281.19,205.86 L282.66,207.69 L284.15,209.51 L285.63,211.32 L287.13,213.12 L288.62,214.91 L290.12,216.69 L291.63,218.46 L293.14,220.23 L294.66,221.98 L296.18,223.73 L297.70,225.47 L299.23,227.19 L300.77,228.91 L302.30,230.62 L303.85,232.32 L305.39,234.01 L306.94,235.70 L308.50,237.37 L310.06,239.03 L311.62,240.69 L313.19,242.34 L314.76,243.97 L316.34,245.60 L317.92,247.22 L319.51,248.84 L321.09,250.44 L322.69,252.03 L324.29,253.62 L325.89,255.19 L327.49,256.76 L329.10,258.32 L330.71,259.87 L332.33,261.42 L333.95,262.95 L335.58,264.47 L337.21,265.99 L338.84,267.50 L340.47,269.00 L342.11,270.49 L343.76,271.97 L345.41,273.45 L347.06,274.92 L348.71,276.37 L350.37,277.82 L352.04,279.27 L353.70,280.70 L355.37,282.13 L357.05,283.55 L358.72,284.96 L360.40,286.36 L362.09,287.75 L363.78,289.14 L365.47,290.52 L367.16,291.89 L368.86,293.25 L370.56,294.61 L372.27,295.95 L373.98,297.29 L375.69,298.63 L377.41,299.95 L379.13,301.27 L380.85,302.58 L382.57,303.88 L384.30,305.18 L386.04,306.46 L387.77,307.74 L389.51,309.02 L391.26,310.28 L393.00,311.54 L394.75,312.79 L396.50,314.04 L398.26,315.28 L400.02,316.51 L401.78,317.73 L403.55,318.95 L405.31,320.16 L407.09,321.36 L408.86,322.56 L410.64,323.75 L412.42,324.93 L414.21,326.10 L415.99,327.27 L417.78,328.44 L419.58,329.59 L421.37,330.74 L423.17,331.89 L424.98,333.02 L426.78,334.15 L428.59,335.28 L430.40,336.39 L432.22,337.51 L434.04,338.61 L435.86,339.71 L437.68,340.80 L439.51,341.89 L441.34,342.97 L443.17,344.04 L445.01,345.11 L446.85,346.17 L448.69,347.23 L450.53,348.28 L452.38,349.33 L454.23,350.36 L456.08,351.40 L457.94,352.43 L459.80,353.45 L461.66,354.46 L463.52,355.47 L465.39,356.48 L467.26,357.48 L469.14,358.47 L471.01,359.46 L472.89,360.44 L474.77,361.42 L476.65,362.39 L478.54,363.35 L480.43,364.31 L482.32,365.27 L484.22,366.22 L486.12,367.17 L488.02,368.11 L489.92,369.04 L491.82,369.97 L493.73,370.89 L495.64,371.81 L497.56,372.73 L499.47,373.64 L501.39,374.54 L503.31,375.44 L505.24,376.33 L507.17,377.22 L509.09,378.11 L511.03,378.99 L512.96,379.86 L514.90,380.73 L516.84,381.60 L518.78,382.46 L520.73,383.31 L522.67,384.17 L524.62,385.01 L526.58,385.86 L528.53,386.69 L530.49,387.53 L532.45,388.35 L534.41,389.18 L536.38,390.00 L538.34,390.81 L540.31,391.62 L542.29,392.43 L544.26,393.23 L546.24,394.03 L548.22,394.82 L550.20,395.61 L552.19,396.40 L554.17,397.18 L556.16,397.96 L558.15,398.73 L560.15,399.50 L562.15,400.26 L564.15,401.02 L566.15,401.78 L568.15,402.53 L570.16,403.28 L572.17,404.02 L574.18,404.76 L576.19,405.50 L578.21,406.23 L580.23,406.96 L582.25,407.69 L584.27,408.41 L586.29,409.12 L588.32,409.84 L590.35,410.55 L592.38,411.25 L594.42,411.96 L596.45,412.65 L598.49,413.35 L600.53,414.04 L602.58,414.73 L604.62,415.41 L606.67,416.09 L608.72,416.77 L610.78,417.44 L612.83,418.11 L614.89,418.78 L616.95,419.44 L619.01,420.10 L621.07,420.76 L623.14,421.41 L625.21,422.06 L627.28,422.71 L629.35,423.35 L631.43,423.99 L633.50,424.62 L635.58,425.26 L637.66,425.88 L639.75,426.51 L641.83,427.13 L643.92,427.75 L646.01,428.37 L648.10,428.98 L650.20,429.59 L652.29,430.20 L654.39,430.80 L656.49,431.41 L658.60,432.00 L660.70,432.60 L662.81,433.19 L664.92,433.78 L667.03,434.36 L669.14,434.95 L671.26,435.53 L673.38,436.10 L675.50,436.68 L677.62,437.25 L679.74,437.81 L681.87,438.38 L684.00,438.94 L686.13,439.50 L688.26,440.06 L690.39,440.61 L692.53,441.16 L694.67,441.71 L696.81,442.25 L698.95,442.80 L701.10,443.34 L703.24,443.87 L705.39,444.41 L707.54,444.94 L709.69,445.47 L711.85,445.99 L714.01,446.52 L716.16,447.04 L718.33,447.56 L720.49,448.07 L722.65,448.58 L724.82,449.09 L726.99,449.60 L729.16,450.11 L731.33,450.61 L733.51,451.11 L735.68,451.61 L737.86,452.10 L740.04,452.59 L742.22,453.08 L744.41,453.57 L746.59,454.06 L748.78,454.54 L750.97,455.02 L753.17,455.50 L755.36,455.97 L757.56,456.44 L759.75,456.91 L761.95,457.38 L764.15,457.85 L766.36,458.31 L768.56,458.77 L770.77,459.23 L772.98,459.68 L775.19,460.14 L777.41,460.59 L779.62,461.04 L781.84,461.48 L784.06,461.93 L786.28,462.37 L788.50,462.81 L790.72,463.25 L792.95,463.68 L795.18,464.11 L797.41,464.54 L799.64,464.97 L801.87,465.40 L804.11,465.82 L806.35,466.24 L808.59,466.66 L810.83,467.08 L813.07,467.49 L815.31,467.90 L817.56,468.31 L819.81,468.72 L822.06,469.12 L824.31,469.53 L826.57,469.93 L828.82,470.32 L831.08,470.72 L833.34,471.11 L835.60,471.50 L837.86,471.89 L840.13,472.28 L842.39,472.66 L844.66,473.04 L846.93,473.42 L849.20,473.80 L851.48,474.17 L853.75,474.54 L856.03,474.91 L858.31,475.28 L860.59,475.64 L862.87,476.00 L865.15,476.36 L867.44,476.71 L869.73,477.06 L872.02,477.41 L874.31,477.75 L876.60,478.09 L878.90,478.42 L881.19,478.74 L883.49,479.05" fill="none" stroke="#808080" stroke-width="3.0" stroke-linejoin="round" stroke-dasharray="7.222 7.222 14.444 7.222"/>
<g stroke="#1e1e1e" stroke-width="1.4" fill="none">
<path d="M85.9,0.85 H900.7" stroke="#858585" stroke-width="1.7"/>
<path d="M86.5,0.6 V504.15 H900.0 V0.6"/>
</g>
<path d="M102.85,504.15 v-7.2 M102.85,0.75 v7.2 M151.64,504.15 v-4.3 M151.64,0.75 v4.3 M200.43,504.15 v-4.3 M200.43,0.75 v4.3 M249.22,504.15 v-4.3 M249.22,0.75 v4.3 M298.01,504.15 v-7.2 M298.01,0.75 v7.2 M346.80,504.15 v-4.3 M346.80,0.75 v4.3 M395.59,504.15 v-4.3 M395.59,0.75 v4.3 M444.38,504.15 v-4.3 M444.38,0.75 v4.3 M493.17,504.15 v-7.2 M493.17,0.75 v7.2 M541.96,504.15 v-4.3 M541.96,0.75 v4.3 M590.75,504.15 v-4.3 M590.75,0.75 v4.3 M639.54,504.15 v-4.3 M639.54,0.75 v4.3 M688.33,504.15 v-7.2 M688.33,0.75 v7.2 M737.12,504.15 v-4.3 M737.12,0.75 v4.3 M785.91,504.15 v-4.3 M785.91,0.75 v4.3 M834.70,504.15 v-4.3 M834.70,0.75 v4.3 M883.49,504.15 v-7.2 M883.49,0.75 v7.2 M86.5,494.14 h4.3 M900.0,494.14 h-4.3 M86.5,479.05 h7.2 M900.0,479.05 h-7.2 M86.5,463.96 h4.3 M900.0,463.96 h-4.3 M86.5,448.86 h4.3 M900.0,448.86 h-4.3 M86.5,433.77 h4.3 M900.0,433.77 h-4.3 M86.5,418.68 h4.3 M900.0,418.68 h-4.3 M86.5,403.59 h7.2 M900.0,403.59 h-7.2 M86.5,388.49 h4.3 M900.0,388.49 h-4.3 M86.5,373.40 h4.3 M900.0,373.40 h-4.3 M86.5,358.31 h4.3 M900.0,358.31 h-4.3 M86.5,343.21 h4.3 M900.0,343.21 h-4.3 M86.5,328.12 h7.2 M900.0,328.12 h-7.2 M86.5,313.03 h4.3 M900.0,313.03 h-4.3 M86.5,297.93 h4.3 M900.0,297.93 h-4.3 M86.5,282.84 h4.3 M900.0,282.84 h-4.3 M86.5,267.75 h4.3 M900.0,267.75 h-4.3 M86.5,252.66 h7.2 M900.0,252.66 h-7.2 M86.5,237.56 h4.3 M900.0,237.56 h-4.3 M86.5,222.47 h4.3 M900.0,222.47 h-4.3 M86.5,207.38 h4.3 M900.0,207.38 h-4.3 M86.5,192.28 h4.3 M900.0,192.28 h-4.3 M86.5,177.19 h7.2 M900.0,177.19 h-7.2 M86.5,162.10 h4.3 M900.0,162.10 h-4.3 M86.5,147.00 h4.3 M900.0,147.00 h-4.3 M86.5,131.91 h4.3 M900.0,131.91 h-4.3 M86.5,116.82 h4.3 M900.0,116.82 h-4.3 M86.5,101.73 h7.2 M900.0,101.73 h-7.2 M86.5,86.63 h4.3 M900.0,86.63 h-4.3 M86.5,71.54 h4.3 M900.0,71.54 h-4.3 M86.5,56.45 h4.3 M900.0,56.45 h-4.3 M86.5,41.35 h4.3 M900.0,41.35 h-4.3 M86.5,26.26 h7.2 M900.0,26.26 h-7.2 M86.5,11.17 h4.3 M900.0,11.17 h-4.3" stroke="#1e1e1e" stroke-width="1.35" fill="none"/>
</svg>
<div id="lab">
<div class="yl" style="top:464.35px">0.00</div>
<div class="yl" style="top:388.89px">0.05</div>
<div class="yl" style="top:313.42px">0.10</div>
<div class="yl" style="top:237.95px">0.15</div>
<div class="yl" style="top:162.49px">0.20</div>
<div class="yl" style="top:87.03px">0.25</div>
<div class="yl" style="top:11.56px">0.30</div>
<div class="xl" style="left:63.10px">0.2</div>
<div class="xl" style="left:258.26px">0.4</div>
<div class="xl" style="left:453.42px">0.6</div>
<div class="xl" style="left:648.58px">0.8</div>
<div class="xl" style="left:843.74px">1.0</div>
<div id="zl">z</div>
</div>
<div id="pl">P<span>r</span></div>
</body></html>
